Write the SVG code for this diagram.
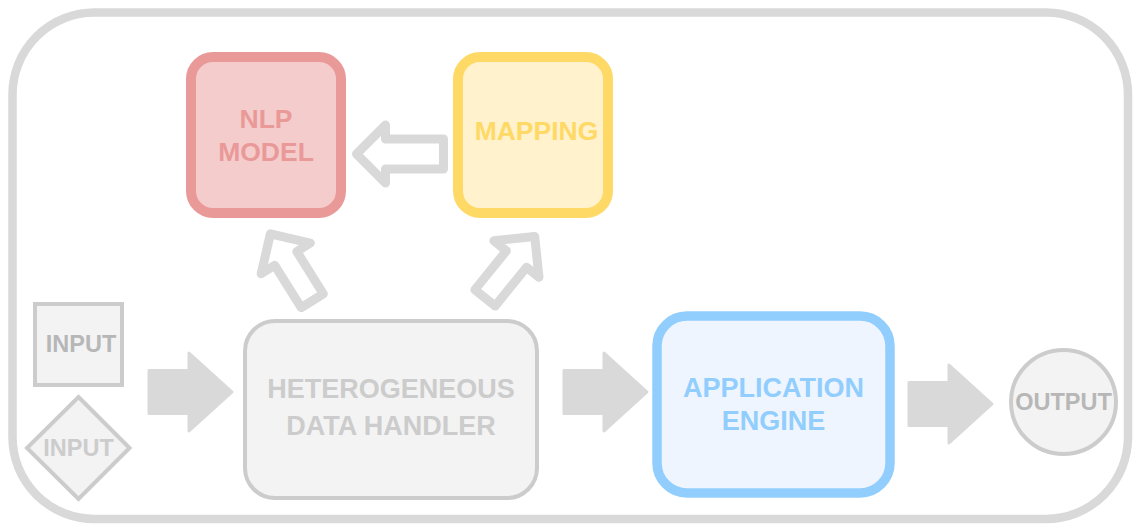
<svg xmlns="http://www.w3.org/2000/svg" xmlns:xlink="http://www.w3.org/1999/xlink" width="1140" height="530" viewBox="0 0 1140 530">
<style>
text{font-family:"Liberation Sans",Arial,sans-serif;font-weight:bold;text-anchor:middle}
.gray{fill:#f3f3f3;stroke:#cccccc;stroke-width:4}
.hollow{fill:#ffffff;stroke:#d9d9d9;stroke-width:9;stroke-linejoin:round}
.solid{fill:#d9d9d9;stroke:#d9d9d9;stroke-width:3;stroke-linejoin:round}
</style>
<defs>
<polygon id="hollowArrow" points="0,0 -29,-29 -29,-15 -87,-15 -87,15 -29,15 -29,29"/>
<polygon id="hollowArrowD" points="0,0 -29,-29 -29,-13 -79,-13 -79,13 -29,13 -29,29"/>
<polygon id="solidArrow" points="0,0 -43,-39 -43,-21.5 -83,-21.5 -83,21.5 -43,21.5 -43,39"/>
</defs>
<rect id="container" x="12.5" y="12.5" width="1115.5" height="506.5" rx="82" ry="82" fill="#ffffff" stroke="#d9d9d9" stroke-width="8.5"/>
<g id="connectors">
<use xlink:href="#hollowArrow" class="hollow" transform="translate(356.5,154) rotate(180)"/>
<use xlink:href="#hollowArrowD" class="hollow" transform="translate(270.4,233.8) rotate(-122)"/>
<use xlink:href="#hollowArrowD" class="hollow" transform="translate(534.7,236.5) rotate(-51)"/>
<use xlink:href="#solidArrow" class="solid" transform="translate(232,392)"/>
<use xlink:href="#solidArrow" class="solid" transform="translate(647,392)"/>
<use xlink:href="#solidArrow" class="solid" transform="translate(992,404)"/>
</g>
<g id="nlp-model">
<rect x="191" y="57" width="150" height="156" rx="22" fill="#f4cccc" stroke="#ea9999" stroke-width="10"/>
<text x="266" y="128" font-size="26.5" fill="#ea9999">NLP</text>
<text x="266" y="161" font-size="26.5" fill="#ea9999">MODEL</text>
</g>
<g id="mapping">
<rect x="458" y="57" width="150" height="156" rx="22" fill="#fff2cc" stroke="#ffd966" stroke-width="10"/>
<text x="536.5" y="140" font-size="26.5" fill="#ffd966">MAPPING</text>
</g>
<g id="input-square">
<rect class="gray" x="35" y="304" width="87" height="81"/>
<text x="81" y="352" font-size="23.5" fill="#b7b7b7">INPUT</text>
</g>
<g id="input-diamond">
<polygon class="gray" points="78.5,397 129.5,448 78.5,499 27,448"/>
<text x="78.5" y="456" font-size="23.5" fill="#cccccc">INPUT</text>
</g>
<g id="data-handler">
<rect class="gray" x="245" y="321" width="292" height="177" rx="30"/>
<text x="391" y="398" font-size="27" fill="#cccccc">HETEROGENEOUS</text>
<text x="391" y="435" font-size="27" fill="#cccccc">DATA HANDLER</text>
</g>
<g id="application-engine">
<rect x="657" y="316" width="233" height="177" rx="30" fill="#eef5fe" stroke="#92cefd" stroke-width="9.5"/>
<text x="773.5" y="397" font-size="27" fill="#92cefd">APPLICATION</text>
<text x="773.5" y="430" font-size="27" fill="#92cefd">ENGINE</text>
</g>
<g id="output">
<ellipse class="gray" cx="1063.5" cy="402" rx="52.5" ry="52"/>
<text x="1063.5" y="410" font-size="23.5" fill="#b7b7b7">OUTPUT</text>
</g>
</svg>
